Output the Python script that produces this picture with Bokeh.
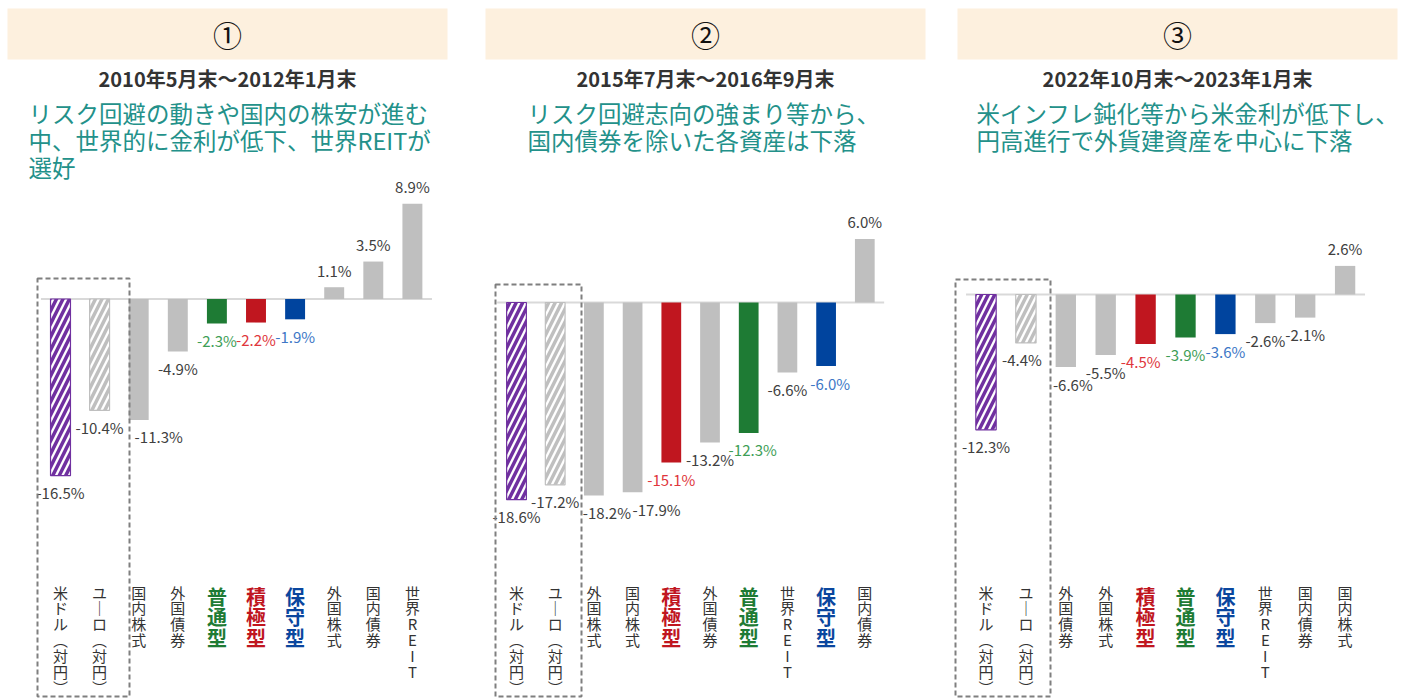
from bokeh.plotting import figure
from bokeh.layouts import row
from bokeh.models import Label, BoxAnnotation, ColumnDataSource, Range1d
from bokeh.core.properties import value
from bokeh.embed import file_html
from bokeh.resources import INLINE

FONT = "Noto Sans CJK JP"

# ---------------- data ----------------
p1_num = "①"
p1_period = "2010年5月末～2012年1月末"
p1_text = ["リスク回避の動きや国内の株安が進む", "中、世界的に金利が低下、世界REITが", "選好"]
p1_cats = ["米ドル（対円）", "ユーロ（対円）", "国内株式", "外国債券", "普通型", "積極型", "保守型", "外国株式", "国内債券", "世界REIT"]
p1_vals = [-16.5, -10.4, -11.3, -4.9, -2.3, -2.2, -1.9, 1.1, 3.5, 8.9]

p2_num = "②"
p2_period = "2015年7月末～2016年9月末"
p2_text = ["リスク回避志向の強まり等から、", "国内債券を除いた各資産は下落"]
p2_cats = ["米ドル（対円）", "ユーロ（対円）", "外国株式", "国内株式", "積極型", "外国債券", "普通型", "世界REIT", "保守型", "国内債券"]
p2_vals = [-18.6, -17.2, -18.2, -17.9, -15.1, -13.2, -12.3, -6.6, -6.0, 6.0]

p3_num = "③"
p3_period = "2022年10月末～2023年1月末"
p3_text = ["米インフレ鈍化等から米金利が低下し、", "円高進行で外貨建資産を中心に下落"]
p3_cats = ["米ドル（対円）", "ユーロ（対円）", "外国債券", "外国株式", "積極型", "普通型", "保守型", "世界REIT", "国内債券", "国内株式"]
p3_vals = [-12.3, -4.4, -6.6, -5.5, -4.5, -3.9, -3.6, -2.6, -2.1, 2.6]

# ---------------- styles ----------------
GRAY = "#BFBFBF"
PURPLE = "#7030A0"
BAR_COL = {"普通型": "#1E7B34", "積極型": "#C0161F", "保守型": "#00449E"}
VAL_COL = {"普通型": "#3E9E56", "積極型": "#E0363C", "保守型": "#3D77C6"}
CAT_COL = {"普通型": "#1E7B34", "積極型": "#C0161F", "保守型": "#0A469E"}
TEAL = "#23918A"
HEAD_BG = "#FDF0DE"

# layout per panel (pixel geometry)
layouts = [
    dict(offset=0, W=468, c0=60, pitch=39.1, y0=298.5, s=10.7, box=(7, 447), tx=28, rect=(37, 129, 278),
         dx=[0, 0, 20, 0, 0, 0, 0, 0, 0, 0]),
    dict(offset=468, W=468, c0=516, pitch=38.7, y0=302, s=10.6, box=(485, 925), tx=527, rect=(495, 581, 284),
         dx=[0, 0, 13, 24, 0, 0, 4, 0, 4, 0]),
    dict(offset=936, W=469, c0=985.5, pitch=39.9, y0=294, s=11.0, box=(957, 1397), tx=976, rect=(955, 1050, 279),
         dx=[0, -4, 7, 0, -5, 0, 0, 0, 0, 0]),
]
H = 698


def vertical(s):
    rep = {"（": "︵", "）": "︶", "ー": "｜"}
    return "\n".join(rep.get(c, c) for c in s)


def make_panel(num, period, text_lines, cats, vals, L):
    c0, pitch, y0, s, off, W = L["c0"], L["pitch"], L["y0"], L["s"], L["offset"], L["W"]
    fx = lambda X: (X - c0) / pitch
    fy = lambda Y: (y0 - Y) / s
    p = figure(width=W, height=H, output_backend="svg", toolbar_location=None,
               x_range=Range1d(fx(off), fx(off + W)), y_range=Range1d(fy(H), fy(0)),
               x_axis_location=None, y_axis_location=None, min_border=0,
               outline_line_color=None, background_fill_color="white", border_fill_color="white")
    for g in p.grid:
        g.visible = False

    # header
    bl, br = L["box"]
    p.add_layout(BoxAnnotation(left=fx(bl), right=fx(br), top=fy(8), bottom=fy(59),
                               fill_color=HEAD_BG, fill_alpha=1.0, line_color=None, level="underlay"))
    cx = fx((bl + br) / 2)
    p.add_layout(Label(x=cx, y=fy(33), text=num, text_align="center", text_baseline="middle",
                       text_font=FONT, text_font_size="29px", text_color="#111111"))
    p.add_layout(Label(x=cx, y=fy(78), text=period, text_align="center", text_baseline="middle",
                       text_font=FONT, text_font_size="20px", text_font_style="bold", text_color="#333333"))
    for i, ln in enumerate(text_lines):
        p.add_layout(Label(x=fx(L["tx"]), y=fy(112 + 27 * i), text=ln, text_align="left", text_baseline="middle",
                           text_font=FONT, text_font_size="23.5px", text_color=TEAL))

    n = len(cats)
    idx = list(range(n))
    # zero line
    p.line(x=[-0.5, n - 0.5], y=[0, 0], line_color="#D9D9D9", line_width=2)

    solid = [i for i in idx if i >= 2]
    src = ColumnDataSource(dict(x=solid, top=[vals[i] for i in solid],
                                color=[BAR_COL.get(cats[i], GRAY) for i in solid]))
    p.vbar(x="x", top="top", bottom=0, width=0.51, fill_color="color", line_color=None, source=src)
    # hatched currency bars
    p.vbar(x=[0], top=[vals[0]], bottom=0, width=0.51, fill_color="white", line_color=PURPLE, line_width=1.2,
           hatch_pattern="/", hatch_color=PURPLE, hatch_scale=13, hatch_weight=3.5)
    p.vbar(x=[1], top=[vals[1]], bottom=0, width=0.51, fill_color="white", line_color=GRAY, line_width=1.2,
           hatch_pattern="/", hatch_color=GRAY, hatch_scale=13, hatch_weight=3.5)

    # value labels
    vsrc = ColumnDataSource(dict(
        x=idx, y=vals, t=["%.1f%%" % v for v in vals],
        yo=[17 if v < 0 else -17 for v in vals], xo=L["dx"],
        c=[VAL_COL.get(c, "#404040") for c in cats]))
    p.text(x="x", y="y", text="t", x_offset="xo", y_offset="yo", text_align="center", text_baseline="middle",
           text_color="c", text_font=value(FONT), text_font_size="15px", source=vsrc)

    # category labels (vertical)
    ylab = fy(581)
    norm = [i for i in idx if cats[i] not in CAT_COL]
    bold = [i for i in idx if cats[i] in CAT_COL]
    nsrc = ColumnDataSource(dict(x=norm, y=[ylab] * len(norm), t=[vertical(cats[i]) for i in norm]))
    p.text(x="x", y="y", text="t", text_align="center", text_baseline="top", text_color="#333333",
           text_font_size="15px", text_font=value(FONT), text_line_height=0.76, source=nsrc)
    bsrc = ColumnDataSource(dict(x=bold, y=[ylab] * len(bold), t=[vertical(cats[i]) for i in bold],
                                 c=[CAT_COL[cats[i]] for i in bold]))
    p.text(x="x", y="y", text="t", text_align="center", text_baseline="top", text_color="c",
           text_font_style="bold", text_font_size="20px", text_font=value(FONT), text_line_height=0.72,
           source=bsrc)

    # dashed box around currency bars
    rl, rr, rt = L["rect"]
    p.quad(left=[fx(rl)], right=[fx(rr)], top=[fy(rt)], bottom=[fy(696)], fill_color=None,
           line_color="#7F7F7F", line_width=2, line_dash="5 3")
    return p


p1 = make_panel(p1_num, p1_period, p1_text, p1_cats, p1_vals, layouts[0])
p2 = make_panel(p2_num, p2_period, p2_text, p2_cats, p2_vals, layouts[1])
p3 = make_panel(p3_num, p3_period, p3_text, p3_cats, p3_vals, layouts[2])

lay = row(p1, p2, p3, spacing=0)
open("out.html", "w").write(file_html(lay, INLINE))
